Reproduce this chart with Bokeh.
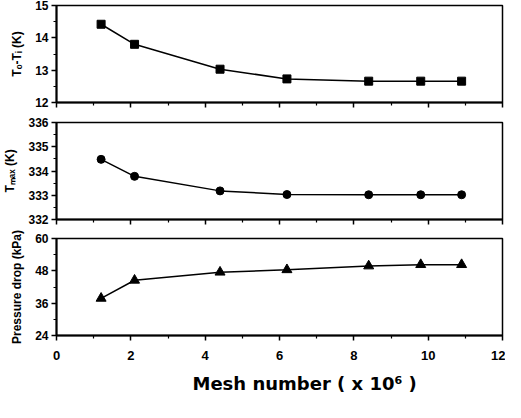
from bokeh.plotting import figure
from bokeh.layouts import column
from bokeh.models import Range1d, FixedTicker, CustomJSTickFormatter, Title
from bokeh.embed import file_html
from bokeh.resources import INLINE

# data
mesh = [1.2, 2.1, 4.4, 6.2, 8.4, 9.8, 10.9]
dT = [14.42, 13.8, 13.03, 12.73, 12.66, 12.66, 12.66]
tmax = [334.48, 333.78, 333.18, 333.03, 333.02, 333.02, 333.02]
dp = [37.8, 44.5, 47.5, 48.4, 49.8, 50.3, 50.3]

x_ticks = [0, 2, 4, 6, 8, 10, 12]
x_minor = [1, 3, 5, 7, 9, 11]
dT_ticks = [12, 13, 14, 15]
dT_minor = [12.5, 13.5, 14.5]
tmax_ticks = [332, 333, 334, 335, 336]
tmax_minor = [332.5, 333.5, 334.5, 335.5]
dp_ticks = [24, 36, 48, 60]
dp_minor = [30, 42, 54]

x_title = "Mesh number ( x 10\u2076 )"

TICK_FONT = "Liberation Sans"
LABEL_FONT = "Liberation Sans"


def make_panel(height, border_top, border_bottom, yr, yticks, yminor, ylabel, show_x):
    p = figure(width=505, height=height, output_backend="svg", toolbar_location=None,
               x_range=Range1d(0, 12), y_range=Range1d(*yr),
               min_border_left=54, min_border_right=3,
               min_border_top=border_top, min_border_bottom=border_bottom)
    p.xgrid.visible = False
    p.ygrid.visible = False
    p.outline_line_color = "black"
    p.outline_line_width = 1.5
    p.background_fill_color = "white"
    p.border_fill_color = "white"
    for ax in (p.xaxis[0], p.yaxis[0]):
        ax.axis_line_width = 2
        ax.major_tick_line_width = 1.5
        ax.minor_tick_line_width = 1.2
        ax.major_tick_in = 0
        ax.major_tick_out = 5
        ax.minor_tick_in = 0
        ax.minor_tick_out = 3
        ax.major_label_text_font = TICK_FONT
        ax.major_label_text_font_style = "bold"
        ax.major_label_text_font_size = "12px"
        ax.major_label_text_color = "black"
    p.xaxis.ticker = FixedTicker(ticks=x_ticks, minor_ticks=x_minor)
    p.yaxis.ticker = FixedTicker(ticks=yticks, minor_ticks=yminor)
    p.yaxis.axis_label = ylabel
    p.yaxis.axis_label_text_font = LABEL_FONT
    p.yaxis.axis_label_text_font_style = "bold"
    p.yaxis.axis_label_text_font_size = "12px"
    p.yaxis.axis_label_text_color = "black"
    p.yaxis.axis_label_standoff = 8
    p.yaxis.major_label_standoff = 3
    if show_x:
        p.xaxis.major_label_text_font_size = "13px"
        p.xaxis.major_label_standoff = 10
        t = Title(text=x_title, align="left", offset=136,
                  text_font="DejaVu Sans", text_font_style="bold",
                  text_font_size="18px", text_color="black", standoff=17)
        p.add_layout(t, "below")
    else:
        p.xaxis.formatter = CustomJSTickFormatter(code="return ''")
        p.xaxis.major_label_standoff = 0
    return p


p1 = make_panel(110, 5, 8, (12, 15), dT_ticks, dT_minor, "T\u2092-T\u1d62 (K)", False)
p1.line(mesh, dT, line_color="black", line_width=1.5)
p1.scatter(mesh, dT, marker="square", size=8, fill_color="black", line_color="black")

p2 = make_panel(116, 12, 7, (332, 336), tmax_ticks, tmax_minor, "T\u2098\u2090\u2093 (K)", False)
p2.line(mesh, tmax, line_color="black", line_width=1.5)
p2.scatter(mesh, tmax, marker="circle", size=8, fill_color="black", line_color="black")

p3 = make_panel(176, 12, 66, (24, 60), dp_ticks, dp_minor, "Pressure drop (kPa)", True)
p3.line(mesh, dp, line_color="black", line_width=1.5)
p3.scatter(mesh, dp, marker="triangle", size=10, fill_color="black", line_color="black")

layout = column(p1, p2, p3, spacing=0)
open("out.html", "w").write(file_html(layout, INLINE))
